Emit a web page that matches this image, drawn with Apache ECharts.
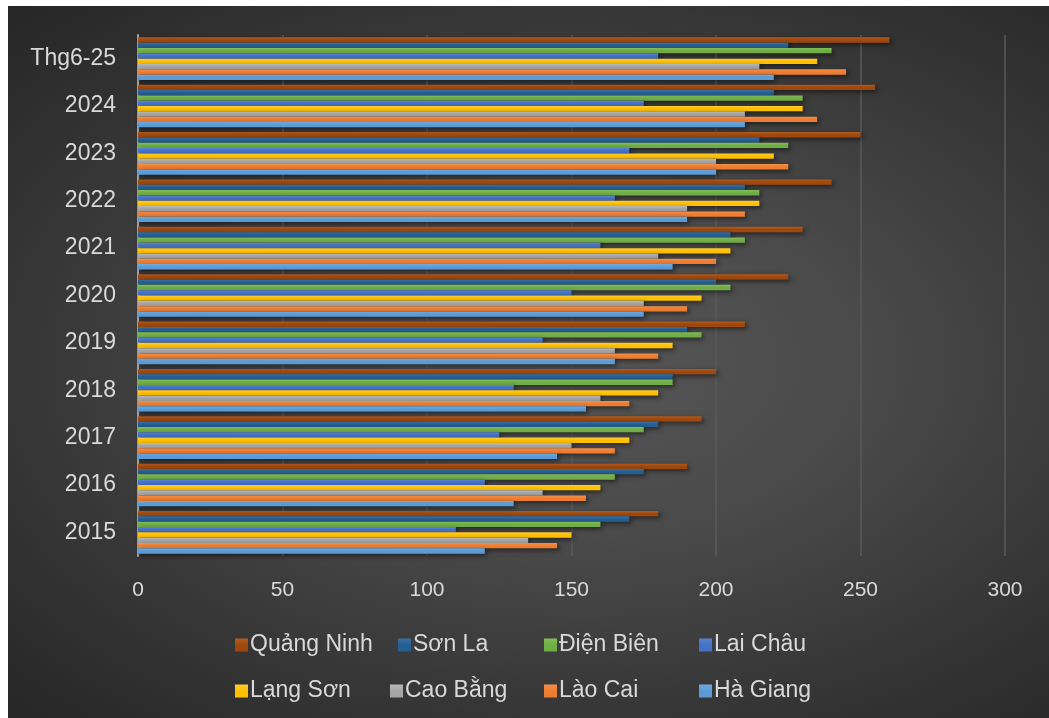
<!DOCTYPE html>
<html>
<head>
<meta charset="utf-8">
<script src="https://cdn.jsdelivr.net/npm/echarts@6/dist/echarts.min.js"></script>
<style>
  html, body { margin: 0; padding: 0; background: #ffffff; }
  #chart {
    position: absolute; left: 8px; top: 6px; width: 1041px; height: 712px;
    background: radial-gradient(ellipse at 55% 50%, #565656 0%, #4a4a4a 35%, #333333 75%, #262626 100%);
  }
</style>
</head>
<body>
<div id="chart"></div>
<script>
// Categories, bottom to top
const years = ['2015', '2016', '2017', '2018', '2019', '2020', '2021', '2022', '2023', '2024', 'Thg6-25'];

// Values per province, in the same order as years
const quangNinh = [180, 190, 195, 200, 210, 225, 230, 240, 250, 255, 260];
const sonLa     = [170, 175, 180, 185, 190, 200, 205, 210, 215, 220, 225];
const dienBien  = [160, 165, 175, 185, 195, 205, 210, 215, 225, 230, 240];
const laiChau   = [110, 120, 125, 130, 140, 150, 160, 165, 170, 175, 180];
const langSon   = [150, 160, 170, 180, 185, 195, 205, 215, 220, 230, 235];
const caoBang   = [135, 140, 150, 160, 165, 175, 180, 190, 200, 210, 215];
const laoCai    = [145, 155, 165, 170, 180, 190, 200, 210, 225, 235, 245];
const haGiang   = [120, 130, 145, 155, 165, 175, 185, 190, 200, 210, 220];

const xTicks = [0, 50, 100, 150, 200, 250, 300];

const seriesDefs = [
  { name: 'Quảng Ninh', data: quangNinh, color: '#9E480E', light: '#B45A1E' },
  { name: 'Sơn La',     data: sonLa,     color: '#255E91', light: '#3670A5' },
  { name: 'Điện Biên',  data: dienBien,  color: '#70AD47', light: '#82BD58' },
  { name: 'Lai Châu',   data: laiChau,   color: '#4472C4', light: '#5783D2' },
  { name: 'Lạng Sơn',   data: langSon,   color: '#FFC000', light: '#FFCC33' },
  { name: 'Cao Bằng',   data: caoBang,   color: '#A5A5A5', light: '#B8B8B8' },
  { name: 'Lào Cai',    data: laoCai,    color: '#ED7D31', light: '#F48F4A' },
  { name: 'Hà Giang',   data: haGiang,   color: '#5B9BD5', light: '#6FAAE0' }
];

// Legend entry placement: two rows of four
const legendLeft = [222, 385, 531, 686, 222, 377, 531, 686];
const legendTop  = [621, 621, 621, 621, 667, 667, 667, 667];

const FONT = '"Liberation Sans", Arial, sans-serif';
const TEXT = '#D9D9D9';

const chart = echarts.init(document.getElementById('chart'));

const legends = seriesDefs.map((s, i) => ({
  left: legendLeft[i],
  top: legendTop[i],
  orient: 'horizontal',
  itemWidth: 13,
  itemHeight: 13,
  itemGap: 0,
  icon: 'rect',
  selectedMode: false,
  data: [s.name],
  textStyle: { color: TEXT, fontSize: 23, lineHeight: 26, fontFamily: FONT, padding: [0, 0, 0, -3] }
}));

chart.setOption({
  backgroundColor: 'transparent',
  animation: false,
  legend: legends,
  grid: { left: 130, right: 44, top: 29, bottom: 162, containLabel: false },
  xAxis: {
    type: 'value',
    min: xTicks[0],
    max: xTicks[xTicks.length - 1],
    interval: xTicks[1] - xTicks[0],
    axisLine: { show: false },
    axisTick: { show: false },
    axisLabel: { color: TEXT, fontSize: 21, fontFamily: FONT, margin: 24 },
    splitLine: { show: true, lineStyle: { color: '#5A5A5A', width: 1.5 } }
  },
  yAxis: {
    type: 'category',
    data: years,
    axisLine: { show: true, lineStyle: { color: '#A6A6A6', width: 2 } },
    axisTick: { show: false },
    axisLabel: { color: TEXT, fontSize: 23, fontFamily: FONT, margin: 22 },
    splitLine: { show: false }
  },
  series: seriesDefs.map(s => ({
    name: s.name,
    type: 'bar',
    data: s.data,
    barGap: '0%',
    barCategoryGap: '10%',
    itemStyle: {
      color: new echarts.graphic.LinearGradient(0, 0, 0, 1, [
        { offset: 0, color: s.light },
        { offset: 0.5, color: s.color },
        { offset: 1, color: s.color }
      ]),
      shadowColor: 'rgba(0,0,0,0.55)',
      shadowBlur: 5,
      shadowOffsetX: 2,
      shadowOffsetY: 2
    },
    emphasis: { disabled: true }
  }))
});
</script>
</body>
</html>
